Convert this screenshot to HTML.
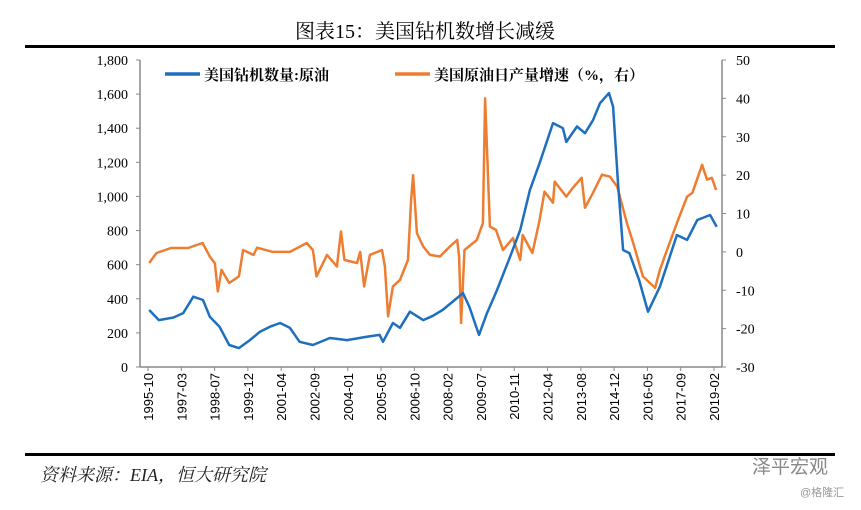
<!DOCTYPE html>
<html><head><meta charset="utf-8"><style>
body{margin:0;background:#fff;}
svg text{font-family:"Liberation Serif","Noto Serif CJK SC",serif;}
svg text.sans{font-family:"Liberation Sans","Noto Sans CJK SC",sans-serif;}
</style></head><body>
<svg width="861" height="505" viewBox="0 0 861 505" xmlns="http://www.w3.org/2000/svg">
<rect width="861" height="505" fill="#fff"/>
<text x="425" y="38" text-anchor="middle" font-size="20" fill="#000">图表15：美国钻机数增长减缓</text>
<rect x="25" y="45" width="810" height="3" fill="#000"/>
<rect x="25" y="453" width="810" height="3" fill="#000"/>
<text x="40" y="481" font-size="18" font-style="italic" fill="#222">资料来源：EIA，恒大研究院</text>
<text class="sans" x="752" y="473" font-size="19" fill="#888">泽平宏观</text>
<text class="sans" x="800" y="496" font-size="11" fill="#999">@格隆汇</text>
<g id="axes"></g>
<g id="series"></g>
<g>
<line x1="165" y1="74" x2="200" y2="74" stroke="#1f6fbf" stroke-width="3.5"/>
<text x="204" y="80" font-size="15" font-weight="bold" fill="#000">美国钻机数量:原油</text>
<line x1="395" y1="74" x2="430" y2="74" stroke="#ed7d31" stroke-width="3.5"/>
<text x="434" y="80" font-size="15" font-weight="bold" fill="#000">美国原油日产量增速（%，右）</text>
</g>
</svg>
<script>
const rigT=[1995.8,1996.2,1996.8,1997.2,1997.62,1998.02,1998.3,1998.7,1999.1,1999.5,1999.95,2000.37,2000.78,2001.2,2001.6,2002.0,2002.55,2003.25,2003.96,2004.8,2005.3,2005.44,2005.85,2006.14,2006.55,2007.1,2007.5,2007.9,2008.74,2009.0,2009.4,2009.73,2010.14,2010.68,2011.1,2011.5,2011.9,2012.45,2012.86,2013.0,2013.44,2013.77,2014.1,2014.39,2014.76,2014.93,2015.13,2015.34,2015.6,2016.0,2016.37,2016.86,2017.56,2017.98,2018.4,2018.93,2019.2];
const rigV=[334,275,290,316,412,393,295,236,129,111,158,207,236,258,229,148,129,170,158,178,188,148,258,230,324,275,300,334,433,354,188,316,451,647,803,1037,1195,1430,1400,1320,1410,1371,1447,1547,1606,1526,1078,686,668,510,324,471,774,745,862,891,822];
const outT=[1995.8,1996.1,1996.7,1997.4,1998.0,1998.3,1998.51,1998.63,1998.78,1999.1,1999.5,1999.67,2000.1,2000.25,2000.9,2001.6,2002.3,2002.55,2002.7,2003.13,2003.54,2003.71,2003.85,2004.37,2004.5,2004.66,2004.9,2005.4,2005.52,2005.65,2005.85,2006.14,2006.47,2006.6,2006.68,2006.84,2007.1,2007.38,2007.79,2008.2,2008.5,2008.58,2008.66,2008.8,2009.31,2009.56,2009.65,2009.85,2010.1,2010.39,2010.8,2011.1,2011.2,2011.6,2011.9,2012.1,2012.45,2012.52,2013.0,2013.27,2013.63,2013.77,2014.1,2014.47,2014.8,2015.1,2015.5,2015.76,2016.16,2016.66,2016.86,2017.15,2017.56,2017.98,2018.2,2018.6,2018.8,2019.0,2019.18];
const outV=[-2.9,-0.3,1.0,1.0,2.3,-1.2,-3,-10.3,-4.7,-8.1,-6.4,0.5,-0.8,1.1,0,0,2.3,0.5,-6.4,-0.8,-3.8,5.3,-2.1,-2.9,0,-9.0,-0.8,0.5,-3.8,-16.8,-9,-7.3,-2.1,13.5,20.0,4.9,1.4,-0.8,-1.2,1.4,3.1,-1.2,-18.5,0.5,3.1,7.5,40.0,6.6,5.7,0.5,3.6,-2.1,4.4,-0.3,8.3,15.7,12.8,18.3,14.4,16.7,19.3,11.5,15.4,20.1,19.6,17.0,7.5,2.3,-6.4,-9.4,-4.7,0.5,7.5,14.4,15.4,22.7,18.8,19.3,16.1];
const leftTicks=[0,200,400,600,800,1000,1200,1400,1600,1800];
const leftLabels=["0","200","400","600","800","1,000","1,200","1,400","1,600","1,800"];
const rightTicks=[-30,-20,-10,0,10,20,30,40,50];
const xLabels=["1995-10","1997-03","1998-07","1999-12","2001-04","2002-09","2004-01","2005-05","2006-10","2008-02","2009-07","2010-11","2012-04","2013-08","2014-12","2016-05","2017-09","2019-02"];

const NS="http://www.w3.org/2000/svg";
const X0=140,X1=722,Y0=367,Y1=60;
const xs=t=>148+(t-1995.75)*24.25;
const yl=v=>Y0-(v/1800)*(Y0-Y1);
const yr=v=>Y0-((v+30)/80)*(Y0-Y1);
function mk(tag,attrs,parent){const e=document.createElementNS(NS,tag);for(const k in attrs)e.setAttribute(k,attrs[k]);parent.appendChild(e);return e;}
const ax=document.getElementById('axes');
let e=mk('line',{x1:X0,y1:Y1,x2:X0,y2:Y0,stroke:'#888','stroke-width':1.5},ax);


e=mk('line',{x1:X1,y1:Y1,x2:X1,y2:Y0,stroke:'#888','stroke-width':1.5},ax);


e=mk('line',{x1:X0,y1:Y0,x2:X1,y2:Y0,stroke:'#888','stroke-width':1.5},ax);


leftTicks.forEach((v,i)=>{
  mk('line',{x1:X0-4,y1:yl(v),x2:X0,y2:yl(v),stroke:'#888'},ax);
  const t=mk('text',{x:X0-12,y:yl(v)+5,'text-anchor':'end','font-size':14,fill:'#000'},ax);
  t.textContent=leftLabels[i];
  
  
});
rightTicks.forEach(v=>{
  mk('line',{x1:X1,y1:yr(v),x2:X1+4,y2:yr(v),stroke:'#888'},ax);
  const t=mk('text',{x:X1+14,y:yr(v)+5,'font-size':14,fill:'#000'},ax);
  t.textContent=String(v);
  
  
});
xLabels.forEach((s,i)=>{
  const x=148+i*(714-148)/(xLabels.length-1);
  mk('line',{x1:x,y1:Y0,x2:x,y2:Y0+4,stroke:'#888'},ax);
  const t=mk('text',{class:'sans',x:0,y:0,'font-size':13,fill:'#000','text-anchor':'end',transform:`translate(${x+5},${Y0+6}) rotate(-90)`},ax);
  t.textContent=s;
  
  
});
const sg=document.getElementById('series');
let p=mk('path',{d:outT.map((t,i)=>(i?'L':'M')+xs(t).toFixed(1)+','+yr(outV[i]).toFixed(1)).join(''),fill:'none',stroke:'#ed7d31','stroke-width':2.5,'stroke-linejoin':'round'},sg);


p=mk('path',{d:rigT.map((t,i)=>(i?'L':'M')+xs(t).toFixed(1)+','+yl(rigV[i]).toFixed(1)).join(''),fill:'none',stroke:'#1f6fbf','stroke-width':2.5,'stroke-linejoin':'round'},sg);


</script>
</body></html>
